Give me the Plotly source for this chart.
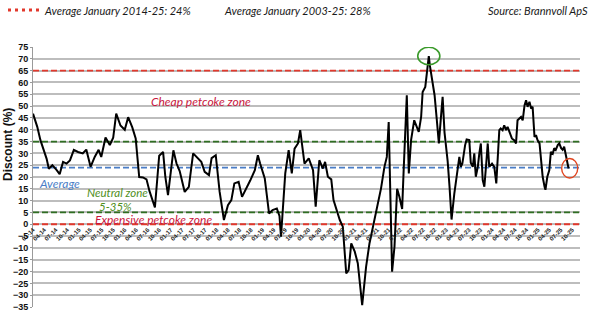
import pandas as pd
import plotly.graph_objects as go

# Petcoke discount series (%), irregular observation dates
dates = [
    "2014-01-01", "2014-02-04", "2014-03-01", "2014-03-28", "2014-04-19", "2014-05-07",
    "2014-06-04", "2014-07-07", "2014-08-01", "2014-08-28", "2014-09-25", "2014-10-22",
    "2014-11-22", "2014-12-25", "2015-02-01", "2015-03-01", "2015-04-04", "2015-05-07",
    "2015-06-07", "2015-06-28", "2015-08-01", "2015-09-04", "2015-10-01", "2015-10-25",
    "2015-11-28", "2016-01-01", "2016-01-28", "2016-03-01", "2016-03-28", "2016-04-25",
    "2016-05-25", "2016-06-22", "2016-07-16", "2016-08-28", "2016-09-16", "2016-10-01",
    "2016-11-01", "2016-11-19", "2016-12-10", "2017-01-01", "2017-01-22", "2017-02-16",
    "2017-03-13", "2017-04-22", "2017-05-25", "2017-06-28", "2017-08-07", "2017-09-01",
    "2017-09-28", "2017-11-01", "2017-11-22", "2017-12-25", "2018-01-25", "2018-02-28",
    "2018-04-01", "2018-04-28", "2018-05-22", "2018-06-25", "2018-07-22", "2018-08-25",
    "2018-09-25", "2018-11-01", "2018-11-25", "2018-12-13", "2019-01-19", "2019-02-22",
    "2019-03-22", "2019-04-25", "2019-05-16", "2019-05-28", "2019-06-13", "2019-07-01",
    "2019-07-28", "2019-08-22", "2019-09-13", "2019-10-10", "2019-10-28", "2019-12-01",
    "2020-01-04", "2020-02-07", "2020-02-28", "2020-03-28", "2020-04-25", "2020-05-13",
    "2020-06-04", "2020-07-01", "2020-07-19", "2020-08-10", "2020-09-07", "2020-10-01",
    "2020-10-28", "2020-11-16", "2020-12-07", "2021-01-04", "2021-01-28", "2021-03-04",
    "2021-04-04", "2021-05-01", "2021-05-28", "2021-07-07", "2021-08-01", "2021-08-28",
    "2021-09-16", "2021-10-01", "2021-10-28", "2021-11-16", "2021-12-07", "2021-12-25",
    "2022-01-16", "2022-01-28", "2022-02-22", "2022-03-10", "2022-03-28", "2022-04-22",
    "2022-05-28", "2022-06-16", "2022-06-28", "2022-07-19", "2022-08-01", "2022-08-16",
    "2022-08-25", "2022-09-07", "2022-10-01", "2022-10-19", "2022-11-04", "2022-11-22",
    "2022-12-04", "2022-12-19", "2023-01-01", "2023-01-13", "2023-01-28", "2023-02-13",
    "2023-03-07", "2023-03-25", "2023-04-16", "2023-04-28", "2023-05-10", "2023-06-01",
    "2023-06-13", "2023-07-04", "2023-07-16", "2023-08-01", "2023-08-13", "2023-08-25",
    "2023-09-10", "2023-09-22", "2023-10-04", "2023-10-19", "2023-11-01", "2023-11-16",
    "2023-11-28", "2023-12-10", "2024-01-01", "2024-01-19", "2024-02-04", "2024-02-16",
    "2024-02-28", "2024-03-10", "2024-03-25", "2024-04-07", "2024-04-22", "2024-05-04",
    "2024-05-22", "2024-06-07", "2024-06-25", "2024-07-10", "2024-07-22", "2024-08-04",
    "2024-08-19", "2024-09-01", "2024-09-16", "2024-09-28", "2024-10-10", "2024-10-25",
    "2024-11-07", "2024-11-19", "2024-12-04", "2024-12-16", "2024-12-28", "2025-01-13",
    "2025-01-25", "2025-02-07", "2025-02-22", "2025-03-01", "2025-03-16", "2025-04-01",
    "2025-04-13", "2025-04-28", "2025-05-10", "2025-05-22", "2025-06-07", "2025-06-19",
    "2025-07-04", "2025-07-16", "2025-07-28", "2025-08-07", "2025-08-16", "2025-09-01",
]

discount = [
    46.8, 41.2, 35.6, 31.1, 27.8, 23.5,
    25.0, 23.0, 21.2, 26.4, 25.7, 27.0,
    31.5, 30.6, 30.0, 31.6, 24.3, 28.5,
    31.5, 28.5, 36.7, 33.5, 36.6, 46.8,
    41.8, 40.0, 45.3, 41.0, 36.3, 20.0,
    19.8, 19.0, 14.0, 7.1, 18.0, 29.0,
    30.6, 20.0, 12.3, 22.0, 31.3, 25.7,
    22.5, 13.7, 15.8, 30.0, 28.0, 26.4,
    22.2, 20.8, 28.0, 29.2, 13.7, 1.8,
    8.1, 10.2, 17.3, 18.0, 11.6, 15.0,
    18.5, 22.9, 29.2, 25.7, 19.4, 4.6,
    6.0, 6.7, 3.5, -5.3, 6.0, 21.5,
    31.4, 21.5, 32.0, 34.2, 39.8, 25.7,
    27.9, 22.9, 7.4, 27.1, 23.6, 26.4,
    20.1, 19.0, 10.2, 6.0, 1.8, -1.0,
    -20.8, -19.4, -8.1, -11.6, -16.5, -34.2,
    -18.0, -8.1, -1.0, 8.1, 15.2, 24.3,
    28.5, 43.3, -20.1, -9.5, 15.0, 11.6,
    6.5, 22.9, 54.6, 21.5, 35.6, 44.0,
    39.1, 45.4, 56.0, 58.1, 63.8, 71.1,
    67.0, 63.1, 54.6, 44.0, 34.2, 46.2,
    53.9, 38.9, 32.8, 26.7, 15.9, 2.0,
    13.0, 20.1, 28.5, 24.3, 25.7, 33.5,
    35.9, 35.6, 26.0, 24.3, 30.0, 20.1,
    24.3, 30.0, 34.2, 18.7, 15.9, 25.7,
    34.2, 24.3, 25.7, 24.3, 17.3, 28.5,
    39.8, 40.5, 39.8, 41.9, 39.8, 41.2,
    38.1, 36.3, 35.6, 34.2, 44.0, 44.5,
    45.4, 44.0, 50.4, 52.5, 49.7, 51.8,
    49.0, 49.7, 37.0, 37.7, 35.6, 34.2,
    28.5, 20.1, 15.9, 14.6, 20.1, 22.9,
    30.6, 29.9, 32.2, 31.5, 33.5, 34.2,
    32.2, 31.5, 32.8, 29.3, 27.8, 23.6,
]

# Reference levels (%)
cheap_level = 65
neutral_high = 35
average_level = 24
neutral_low = 5
expensive_level = 0

header_texts = [
    "Average January 2014-25: 24%",
    "Average January 2003-25: 28%",
    "Source: Brannvoll ApS",
]
y_title = "Discount (%)"

x_start, x_end = "2014-01-01", "2025-12-01"
y_min, y_max = -35, 75

RED = "#e2382c"
GREEN = "#2f6e22"
BLUE = "#4a7dc6"
CRIMSON = "#c8153c"
LABEL_GREEN = "#4f8f1c"
LABEL_FONT = "Lato"
AXIS_FONT = "Liberation Sans"

# Plot-area geometry in pixels (used for header placement in paper units)
M_L, M_R, M_T, M_B = 33, 20, 47, 28
W, H = 600, 335
PW, PH = W - M_L - M_R, H - M_T - M_B


def px_to_paper(px, py):
    return (px - M_L) / PW, (H - M_B - py) / PH


fig = go.Figure()

# Zone / average reference lines, drawn under the series
for level, color in [
    (cheap_level, RED),
    (neutral_high, GREEN),
    (average_level, BLUE),
    (neutral_low, GREEN),
    (expensive_level, RED),
]:
    fig.add_trace(go.Scatter(
        x=[x_start, x_end], y=[level, level], mode="lines",
        line=dict(color=color, width=1.8, dash="6px,3px"),
        showlegend=False, hoverinfo="skip",
    ))

fig.add_trace(go.Scatter(
    x=dates, y=discount, mode="lines",
    line=dict(color="black", width=2),
    showlegend=False, hoverinfo="skip",
))

# Highlight the peak and the latest observation
ts = pd.to_datetime(pd.Series(dates))
peak_i = max(range(len(discount)), key=lambda i: discount[i])
peak_t, peak_v = ts[peak_i], discount[peak_i]
fig.add_shape(
    type="circle", xref="x", yref="y",
    x0=peak_t - pd.Timedelta(days=88), x1=peak_t + pd.Timedelta(days=88),
    y0=peak_v - 3.6, y1=peak_v + 3.8,
    line=dict(color="#3a9a2a", width=1.6),
)
last_t, last_v = ts.iloc[-1], discount[-1]
fig.add_shape(
    type="circle", xref="x", yref="y",
    x0=last_t - pd.Timedelta(days=55), x1=last_t + pd.Timedelta(days=73),
    y0=last_v - 4.0, y1=last_v + 4.2,
    line=dict(color="#e0441e", width=1.4),
)

# In-chart zone labels
zone_labels = [
    ("Cheap petcoke zone", "2017-08-27", 52, "center", CRIMSON, 12),
    ("Average", "2014-02-01", 17.3, "left", BLUE, 12),
    ("Neutral zone", "2015-11-07", 13.5, "center", LABEL_GREEN, 11.5),
    ("5-35%", "2015-10-21", 7.6, "center", LABEL_GREEN, 11.5),
    ("Expensive petcoke zone", "2015-04-22", 2, "left", CRIMSON, 12),
]
for text, xd, yv, anchor, color, size in zone_labels:
    fig.add_annotation(
        x=xd, y=yv, xref="x", yref="y", text=text, showarrow=False,
        xanchor=anchor, yanchor="middle",
        font=dict(family=LABEL_FONT, size=size, color=color, style="italic"),
    )

# Vertical axis title
tx, ty = px_to_paper(8, 145)
fig.add_annotation(
    x=tx, y=ty, xref="paper", yref="paper", text=y_title, textangle=-90,
    showarrow=False, xanchor="center", yanchor="middle",
    font=dict(family=AXIS_FONT, size=12, color="#111", weight="bold"),
)

# Header line: dotted red key, two averages and the source
kx0, ky = px_to_paper(8, 10)
kx1, _ = px_to_paper(39, 10)
fig.add_shape(
    type="line", xref="paper", yref="paper", x0=kx0, x1=kx1, y0=ky, y1=ky,
    line=dict(color=RED, width=3, dash="3px,4px"),
)
header_font = dict(family=LABEL_FONT, size=11, color="#1a1a1a", style="italic")
for text, px, anchor in [
    (header_texts[0], 42, "left"),
    (header_texts[1], 222, "left"),
    (header_texts[2], 590, "right"),
]:
    xp, yp = px_to_paper(px, 10)
    fig.add_annotation(
        x=xp, y=yp, xref="paper", yref="paper", text=text,
        showarrow=False, xanchor=anchor, yanchor="middle", font=header_font,
    )

fig.update_layout(
    width=W, height=H,
    margin=dict(l=M_L, r=M_R, t=M_T, b=M_B),
    paper_bgcolor="white", plot_bgcolor="white",
    showlegend=False,
    xaxis=dict(
        type="date", range=[x_start, x_end], automargin=False,
        tick0=x_start, dtick="M3", tickformat="%m-%y", tickangle=-45,
        tickfont=dict(family=AXIS_FONT, size=6, color="#222", weight="bold"),
        showgrid=False, zeroline=False, showline=False, ticks="",
        anchor="free", position=(0 - y_min) / (y_max - y_min),
    ),
    yaxis=dict(
        range=[y_min, y_max], tick0=0, dtick=5, automargin=False,
        tickfont=dict(family=AXIS_FONT, size=9, color="#111", weight="bold"),
        gridcolor="#bdbdbd", gridwidth=1.5, zeroline=False,
        showline=True, linecolor="#9a9a9a", linewidth=1,
        ticks="outside", ticklen=2, tickcolor="#9a9a9a",
    ),
)

fig.write_html("out.html")
